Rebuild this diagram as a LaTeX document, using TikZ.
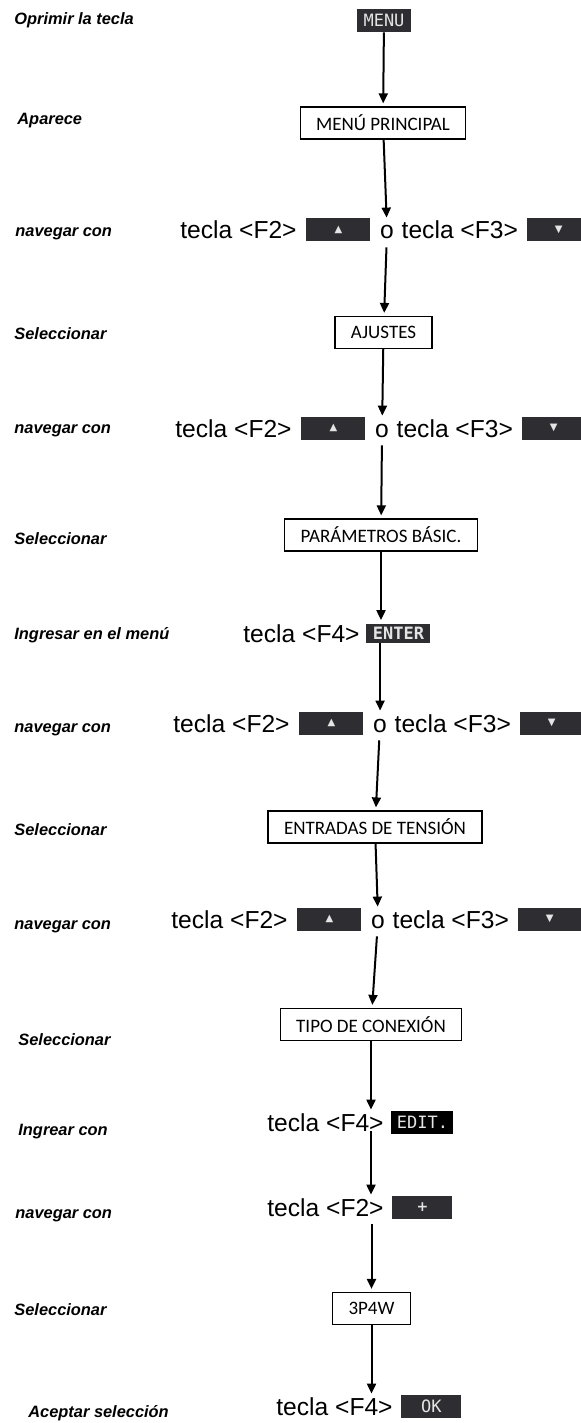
\documentclass[tikz,border=0pt]{standalone}
\usepackage{fontspec}
\setmainfont{Liberation Sans}
\newfontfamily\boxfont{Carlito}
\newfontfamily\keyfont{DejaVu Sans Mono}
\newfontfamily\symfont{DejaVu Sans}
\usepackage{tikz}
\usetikzlibrary{positioning,arrows.meta}
\definecolor{keygray}{RGB}{46,46,50}
\definecolor{keytext}{RGB}{228,228,228}

\begin{document}
\begin{tikzpicture}[x=0.5pt, y=-0.5pt,
      flow/.style={-{Triangle[length=5pt,width=4.5pt]}, line width=1pt, shorten >=1.5pt},
      hint/.style={anchor=west, inner sep=0pt, font=\fontsize{8.2}{9}\selectfont\bfseries\itshape},
      tecla/.style={inner sep=0pt, text height=9pt, text depth=0pt, font=\fontsize{12.3}{14}\selectfont},
      softkey/.style={fill=keygray, text=keytext, minimum width=32pt, minimum height=11.5pt,
        inner sep=0pt, font=\keyfont\fontsize{8.5}{9}\selectfont},
      arrowkey/.style={softkey, font=\symfont\fontsize{5}{5}\selectfont},
      screen/.style={draw, line width=0.6pt, fill=white, minimum height=16pt, inner xsep=8pt,
        font=\boxfont\fontsize{9.5}{11}\selectfont}]
    \useasboundingbox (0,0) rectangle (581,1423);

    \foreach \x/\y/\t [count=\i] in {14/20/Oprimir la tecla, 17/121/Aparece, 15/234/navegar con,
        14/334/Seleccionar, 14/431/navegar con, 14/539/Seleccionar, 14/635/Ingresar en el menú,
        14/730/navegar con, 14/830/Seleccionar, 14/927/navegar con, 18/1040/Seleccionar,
        18/1132/Ingrear con, 15/1216/navegar con, 14/1310/Seleccionar, 28/1413/Aceptar selección}
      \node[hint] (hint\i) at (\x,\y) {\t};

    \node[softkey, minimum width=27pt] (MENU) at (384,20.5) {MENU};
    \node[screen] (PRINCIPAL) at (383,123) {MENÚ PRINCIPAL};
    \node[screen] (AJUSTES) at (383.5,332.5) {AJUSTES};
    \node[screen] (BASIC) at (381,535) {PARÁMETROS BÁSIC.};
    \node[screen] (TENSION) at (375,827) {ENTRADAS DE TENSIÓN};
    \node[screen] (CONEXION) at (371,1024.5) {TIPO DE CONEXIÓN};
    \node[screen] (W3P4) at (371.5,1308.5) {3P4W};

    \foreach \r/\xs/\y in {a/180/230, b/175/428, c/173/723, d/171/919} {
      \node[tecla, anchor=west] (F2\r) at (\xs,\y) {tecla <F2>};
      \node[arrowkey, right=4.5pt of F2\r] (UP\r) {▲};
      \node[tecla, right=4.5pt of UP\r] (O\r) {o};
      \node[tecla, right=3.5pt of O\r] (F3\r) {tecla <F3>};
      \node[arrowkey, right=4pt of F3\r] (DOWN\r) {▼};
    }

    \node[tecla, anchor=west] (F4enter) at (243,633) {tecla <F4>};
    \node[softkey, minimum height=9.5pt, right=3pt of F4enter,
      font=\keyfont\bfseries\fontsize{8.5}{9}\selectfont] (ENTER) {ENTER};
    \node[tecla, anchor=west] (F4edit) at (267,1122) {tecla <F4>};
    \node[softkey, fill=black, minimum width=31pt, right=3.5pt of F4edit] (EDIT) {EDIT.};
    \node[tecla, anchor=west] (F2plus) at (267,1207) {tecla <F2>};
    \node[softkey, minimum width=30pt, right=4pt of F2plus,
      font=\symfont\bfseries\fontsize{7}{7}\selectfont] (PLUS) {+};
    \node[tecla, anchor=west] (F4ok) at (276,1406) {tecla <F4>};
    \node[softkey, minimum width=30pt, right=4pt of F4ok] (OK) {OK};

    \draw[flow] (MENU) -- (PRINCIPAL);
    \draw[flow] (PRINCIPAL) -- (Oa);
    \draw[flow, shorten <=4pt] (Oa) -- (AJUSTES);
    \draw[flow] (AJUSTES) -- (Ob);
    \draw[flow, shorten <=4pt] (Ob) -- (BASIC);
    \draw[flow] (BASIC) -- (BASIC |- ENTER.north);
    \draw[flow] (ENTER.south -| Oc) -- (Oc);
    \draw[flow, shorten <=4pt] (Oc) -- (TENSION);
    \draw[flow] (TENSION) -- (Od);
    \draw[flow, shorten <=4pt] (Od) -- (CONEXION);
    \draw[flow] (CONEXION) -- (CONEXION |- F4edit.north);
    \draw[flow] (F4edit.south -| CONEXION) -- (F2plus.north -| CONEXION);
    \draw[flow, shorten <=4pt] (F2plus.south -| W3P4) -- (W3P4);
    \draw[flow] (W3P4) -- (W3P4 |- F4ok.north);
\end{tikzpicture}
\end{document}
